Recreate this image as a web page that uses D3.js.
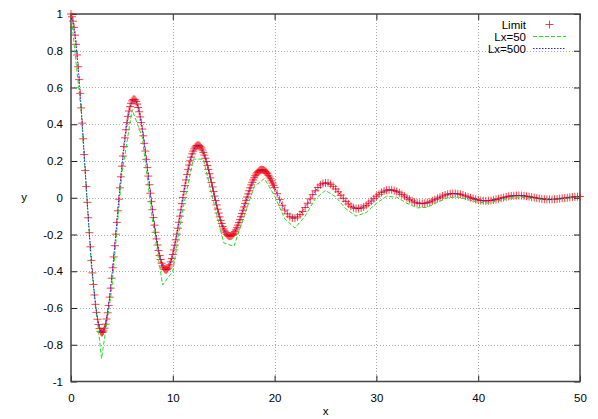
<!DOCTYPE html>
<html>
<head>
<meta charset="utf-8">
<script src="https://cdn.jsdelivr.net/npm/d3@7/dist/d3.min.js"></script>
<style>
  body { margin: 0; background: #fff; }
  svg { display: block; font-family: "Liberation Sans", Arial, sans-serif; }
</style>
</head>
<body>
<svg id="chart" width="598" height="419"></svg>
<script>
// Limit: x = 0 .. 19.9 step 0.1, then 20 .. 50 step 0.25
var limitY = [
  1.000, .985, .961, .927, .885, .835, .777, .713, .643, .568,
  .489, .406, .321, .235, .148, .061, -.025, -.109, -.190, -.267,
  -.341, -.409, -.472, -.529, -.580, -.624, -.661, -.690, -.712, -.727,
  -.733, -.733, -.725, -.710, -.688, -.660, -.626, -.586, -.541, -.492,
  -.438, -.381, -.322, -.261, -.198, -.134, -.071, -.008, .054, .114,
  .172, .227, .279, .326, .370, .409, .443, .472, .496, .514,
  .527, .534, .536, .533, .524, .510, .491, .468, .440, .409,
  .374, .337, .296, .254, .209, .164, .118, .071, .025, -.021,
  -.065, -.108, -.149, -.188, -.224, -.257, -.287, -.314, -.336, -.356,
  -.371, -.381, -.389, -.392, -.391, -.386, -.377, -.365, -.349, -.331,
  -.309, -.284, -.258, -.229, -.198, -.166, -.134, -.100, -.066, -.032,
  .001, .034, .066, .097, .126, .153, .178, .201, .221, .239,
  .254, .266, .276, .282, .285, .286, .284, .278, .271, .260,
  .247, .232, .215, .197, .176, .154, .131, .108, .083, .059,
  .034, .009, -.015, -.039, -.062, -.083, -.104, -.123, -.140, -.156,
  -.170, -.181, -.191, -.199, -.204, -.208, -.209, -.208, -.205, -.200,
  -.193, -.185, -.175, -.163, -.149, -.135, -.119, -.103, -.086, -.068,
  -.050, -.032, -.014, .004, .021, .038, .054, .070, .084, .097,
  .109, .120, .129, .137, .143, .148, .151, .152, .152, .151,
  .148, .143, .138, .131, .122, .113, .103, .092, .080, .068,
  // from x = 20, step 0.25
  .055, .022, -.010, -.041, -.067, -.088, -.103, -.110,
  -.111, -.104, -.092, -.075, -.053, -.030, -.006, .017,
  .038, .056, .070, .078, .081, .080, .073, .062,
  .048, .032, .014, -.003, -.020, -.034, -.046, -.054,
  -.059, -.059, -.056, -.050, -.041, -.030, -.018, -.005,
  .008, .019, .029, .036, .041, .043, .043, .039,
  .034, .027, .018, .009, .000, -.009, -.017, -.024,
  -.028, -.031, -.032, -.030, -.027, -.023, -.017, -.010,
  -.003, .003, .009, .015, .019, .022, .023, .023,
  .021, .019, .015, .010, .005, .000, -.004, -.009,
  -.012, -.015, -.016, -.017, -.016, -.015, -.012, -.009,
  -.006, -.002, .001, .005, .008, .010, .011, .012,
  .012, .012, .010, .008, .006, .003, .001, -.002,
  -.004, -.006, -.008, -.009, -.009, -.009, -.008, -.007,
  -.005, -.003, -.002, .000, .002, .004, .005, .006,
  .007
];
var limitX = d3.range(200).map(function(i) { return i / 10; })
  .concat(d3.range(121).map(function(i) { return 20 + i / 4; }));

// Lx=50: one value per unit of x, 0 .. 50
var lx50Y = [
  1.0, .47, -.37, -.875, -.50, .13, .48, .33, -.12, -.475,
  -.40, -.06, .21, .21, -.02, -.245, -.265, -.10, .06, .105,
  .01, -.115, -.165, -.10, -.005, .04, .005, -.06, -.10, -.08,
  -.03, .008, .003, -.03, -.055, -.052, -.025, .0, .004, -.01,
  -.025, -.028, -.016, -.002, .004, -.001, -.009, -.012, -.007, .0,
  .005
];
var lx50X = d3.range(51);

// Lx=500: x = 0 .. 19.8 step 0.2, then 20 .. 50 step 0.5
var lx500Y = [
  1.000, .961, .885, .777, .643, .489, .321, .148, -.025, -.190,
  -.341, -.472, -.580, -.661, -.712, -.733, -.725, -.688, -.626, -.541,
  -.438, -.322, -.198, -.071, .054, .172, .279, .370, .443, .496,
  .527, .536, .524, .491, .440, .374, .296, .209, .118, .025,
  -.065, -.149, -.224, -.287, -.336, -.371, -.389, -.391, -.377, -.349,
  -.309, -.258, -.198, -.134, -.066, .001, .066, .126, .178, .221,
  .254, .276, .285, .284, .271, .247, .215, .176, .131, .083,
  .034, -.015, -.062, -.104, -.140, -.170, -.191, -.204, -.209, -.205,
  -.193, -.175, -.149, -.119, -.086, -.050, -.014, .021, .054, .084,
  .109, .129, .143, .151, .152, .148, .138, .122, .103, .080,
  // from x = 20, step 0.5
  .055, -.010, -.067, -.103, -.111, -.092, -.053, -.006, .038, .070,
  .081, .073, .048, .014, -.020, -.046, -.059, -.056, -.041, -.018,
  .008, .029, .041, .043, .034, .018, .000, -.017, -.028, -.032,
  -.027, -.017, -.003, .009, .019, .023, .021, .015, .005, -.004,
  -.012, -.016, -.016, -.012, -.006, .001, .008, .011, .012, .010,
  .006, .001, -.004, -.008, -.009, -.008, -.005, -.002, .002, .005,
  .007
];
var lx500X = d3.range(100).map(function(i) { return i / 5; })
  .concat(d3.range(61).map(function(i) { return 20 + i / 2; }));

var xTicks = [0, 10, 20, 30, 40, 50];
var yTicks = [-1, -0.8, -0.6, -0.4, -0.2, 0, 0.2, 0.4, 0.6, 0.8, 1];
var legendNames = ["Limit", "Lx=50", "Lx=500"];

// plot box (named so it does not clash with window.top)
var boxLeft = 71, boxRight = 580, boxTop = 14, boxBottom = 381.5;
var svg = d3.select("#chart");

var xScale = d3.scaleLinear().domain([0, 50]).range([boxLeft, boxRight]);
var yScale = d3.scaleLinear().domain([-1, 1]).range([boxBottom, boxTop]);
var fmt = function(d) { return String(+d.toFixed(1)); };

// grid
var grid = svg.append("g")
  .attr("stroke", "#a8a8a8")
  .attr("stroke-width", 1)
  .attr("stroke-dasharray", "1,2");
grid.selectAll("line.gx")
  .data(xTicks.slice(1, -1))
  .enter().append("line")
  .attr("x1", function(d) { return Math.round(xScale(d)) + 0.5; })
  .attr("x2", function(d) { return Math.round(xScale(d)) + 0.5; })
  .attr("y1", boxTop).attr("y2", boxBottom);
grid.selectAll("line.gy")
  .data(yTicks.slice(1, -1))
  .enter().append("line")
  .attr("y1", function(d) { return Math.round(yScale(d)) + 0.5; })
  .attr("y2", function(d) { return Math.round(yScale(d)) + 0.5; })
  .attr("x1", boxLeft).attr("x2", boxRight);

// axes, ticks pointing inward
function styleAxis(g) {
  g.select(".domain").remove();
  g.selectAll(".tick line").attr("stroke", "#222");
  g.selectAll(".tick text").attr("fill", "#000").attr("font-size", 11.5);
}
svg.append("g")
  .attr("transform", "translate(0," + boxBottom + ")")
  .call(d3.axisBottom(xScale).tickValues(xTicks).tickSize(-6).tickPadding(12).tickFormat(fmt))
  .call(styleAxis);
svg.append("g")
  .attr("transform", "translate(0," + boxTop + ")")
  .call(d3.axisTop(xScale).tickValues(xTicks).tickSize(-6).tickFormat(""))
  .call(styleAxis);
svg.append("g")
  .attr("transform", "translate(" + boxLeft + ",0)")
  .call(d3.axisLeft(yScale).tickValues(yTicks).tickSize(-6).tickPadding(8).tickFormat(fmt))
  .call(styleAxis);
svg.append("g")
  .attr("transform", "translate(" + boxRight + ",0)")
  .call(d3.axisRight(yScale).tickValues(yTicks).tickSize(-6).tickFormat(""))
  .call(styleAxis);

svg.append("rect")
  .attr("x", boxLeft).attr("y", boxTop)
  .attr("width", boxRight - boxLeft).attr("height", boxBottom - boxTop)
  .attr("fill", "none").attr("stroke", "#444").attr("stroke-width", 1.5);

// axis titles
svg.append("text").attr("x", (boxLeft + boxRight) / 2).attr("y", 415)
  .attr("text-anchor", "middle").attr("font-size", 11.5).text("x");
svg.append("text").attr("x", 24).attr("y", 201)
  .attr("text-anchor", "middle").attr("font-size", 11.5).text("y");

// Limit: + markers
var plus = "M-4,0H4M0,-4V4";
svg.append("g")
  .selectAll("path")
  .data(limitX)
  .enter().append("path")
  .attr("d", plus)
  .attr("transform", function(d, i) { return "translate(" + xScale(d) + "," + yScale(limitY[i]) + ")"; })
  .attr("stroke", "#ff0000")
  .attr("stroke-opacity", 0.75)
  .attr("stroke-width", 1)
  .attr("fill", "none");

var line = d3.line()
  .x(function(d) { return xScale(d[0]); })
  .y(function(d) { return yScale(d[1]); });

svg.append("path")
  .attr("d", line(d3.zip(lx50X, lx50Y)))
  .attr("fill", "none")
  .attr("stroke", "#22dd22")
  .attr("stroke-width", 1)
  .attr("stroke-dasharray", "4,2");

svg.append("path")
  .attr("d", line(d3.zip(lx500X, lx500Y)))
  .attr("fill", "none")
  .attr("stroke", "#2020ff")
  .attr("stroke-width", 1)
  .attr("stroke-dasharray", "1.5,1.5");

// legend
var legY = [24.5, 36.5, 48.5];
var leg = svg.append("g").attr("font-size", 11.5);
leg.selectAll("text")
  .data(legendNames)
  .enter().append("text")
  .attr("x", 526)
  .attr("y", function(d, i) { return legY[i]; })
  .attr("dy", "0.35em")
  .attr("text-anchor", "end")
  .text(function(d) { return d; });
leg.append("path")
  .attr("d", plus)
  .attr("transform", "translate(549.5," + legY[0] + ")")
  .attr("stroke", "#ff0000").attr("stroke-opacity", 0.75).attr("fill", "none");
leg.append("line")
  .attr("x1", 533).attr("x2", 566).attr("y1", legY[1]).attr("y2", legY[1])
  .attr("stroke", "#22dd22").attr("stroke-dasharray", "4,2");
leg.append("line")
  .attr("x1", 533).attr("x2", 566).attr("y1", legY[2]).attr("y2", legY[2])
  .attr("stroke", "#2020ff").attr("stroke-dasharray", "1.5,1.5");
</script>
</body>
</html>
